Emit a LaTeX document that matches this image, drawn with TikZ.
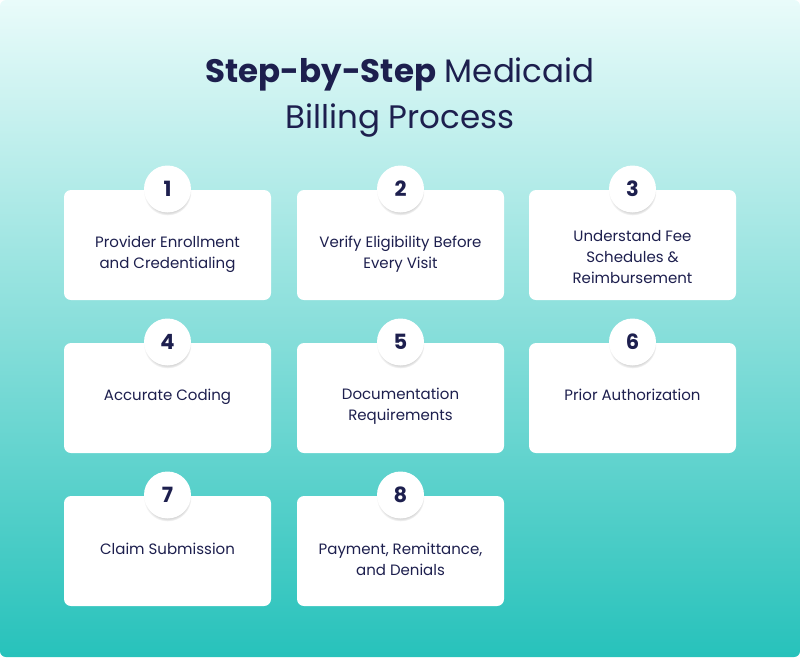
\documentclass[tikz,border=0pt]{standalone}
\usepackage{fontspec}
\setmainfont{Poppins}
\usetikzlibrary{shadows}
\definecolor{navy}{HTML}{1D1F4E}
\definecolor{bgtop}{HTML}{E9FBFA}
\definecolor{bgbot}{HTML}{27C2BB}
\tikzset{
  card/.style={fill=white, rounded corners=7pt, draw=none},
  num/.style={circle, fill=white, minimum size=47pt, inner sep=0pt, font=\fontsize{21}{21}\selectfont\bfseries, text=navy,
     circular drop shadow={shadow xshift=0pt, shadow yshift=-2.5pt, shadow scale=1.02, opacity=0.18, fill=black}},
  lbl/.style={align=center, text=navy, font=\fontsize{15}{21}\selectfont, inner sep=0pt},
}
\begin{document}
\begin{tikzpicture}[x=1pt,y=-1pt]
\useasboundingbox (0,0) rectangle (800,657);
\shade[top color=bgtop, bottom color=bgbot, rounded corners=6pt] (0,0) rectangle (800,657);
\node[text=navy, font=\fontsize{32.5}{46}\selectfont, align=center, inner sep=0pt] (title) at (400,97.5)
  {\textbf{Step-by-Step} Medicaid\\Billing Process};
% cards
\foreach \n/\x/\y in {1/64/190, 2/297/190, 3/529/190, 4/64/343, 5/297/343, 6/529/343, 7/64/496, 8/297/496}{
  \path[card] (\x,\y) rectangle ++(207,110);
  \coordinate (c\n) at (\x+103.5,\y);
}
\foreach \n in {1,...,8}{ \node[num] (n\n) at ([yshift=1pt]c\n) {\n}; }
\node[lbl] (t1) at ([yshift=-64pt]c1) {Provider Enrollment\\and Credentialing};
\node[lbl] (t2) at ([yshift=-64pt]c2) {Verify Eligibility Before\\Every Visit};
\node[lbl] (t3) at ([yshift=-67pt]c3) {Understand Fee\\Schedules \&\\Reimbursement};
\node[lbl] (t4) at ([yshift=-54pt]c4) {Accurate Coding};
\node[lbl] (t5) at ([yshift=-63pt]c5) {Documentation\\Requirements};
\node[lbl] (t6) at ([yshift=-52pt]c6) {Prior Authorization};
\node[lbl] (t7) at ([yshift=-53pt]c7) {Claim Submission};
\node[lbl] (t8) at ([yshift=-63pt]c8) {Payment, Remittance,\\and Denials};
\end{tikzpicture}
\end{document}
